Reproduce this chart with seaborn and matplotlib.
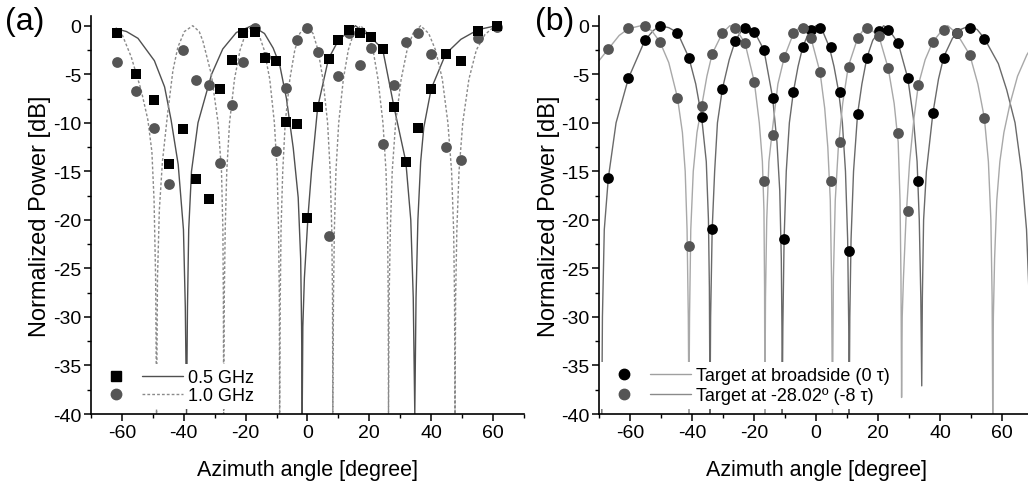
import matplotlib
matplotlib.use("Agg")
import pandas as pd
import matplotlib.pyplot as plt
import seaborn as sns
from matplotlib.lines import Line2D
from matplotlib.legend_handler import HandlerTuple
from matplotlib.ticker import MultipleLocator

# ---------------- panel (a): measured points ----------------
a_angle = [-61.7, -55.3, -49.7, -44.8, -40.2, -35.9, -31.9, -28.2, -24.4, -20.8,
           -17.1, -13.7, -10.2, -6.9, -3.4, -0.1, 3.3, 6.8, 10.0, 13.5,
           16.9, 20.5, 24.3, 28.0, 31.8, 35.8, 40.0, 44.7, 49.6, 55.2, 61.4]
a_05ghz = [-0.7, -5.0, -7.7, -14.2, -10.6, -15.8, -17.9, -6.5, -3.5, -0.7,
           -0.65, -3.3, -3.6, -9.9, -10.1, -19.8, -8.4, -3.4, -1.5, -0.4,
           -0.8, -1.2, -2.4, -8.4, -14.0, -10.5, -6.5, -2.9, -3.6, -0.5, 0.0]
a_10ghz = [-3.7, -6.7, -10.5, -16.3, -2.5, -5.6, -6.1, -14.1, -8.2, -3.7,
           -0.2, -3.2, -12.9, -6.4, -1.5, -0.2, -2.7, -21.7, -5.2, -0.75,
           -4.0, -2.3, -12.2, -6.1, -1.7, -0.8, -2.9, -12.5, -13.8, -1.3, -0.1]

# theory curves
a_05ghz_line_x = [-62.0, -58.5, -54.8, -49.5, -46.2, -44.1, -41.8, -40.1, -39.5, -39.1,
                  -38.8, -38.4, -37.5, -35.4, -31.0, -27.4, -23.0, -18.0,
                  -13.9, -11.1, -9.0, -6.8, -4.6, -3.0, -2.2, -1.9, -1.7,
                  -1.5, -1.0, 0.2, 1.3, 3.3, 6.8, 10.0, 15.5, 20.5, 24.3, 28.0, 31.8,
                  33.4, 34.2, 34.7,
                  35.1, 35.7, 36.6, 37.6, 40.0, 44.7, 49.6, 55.2, 61.0, 62.0]
a_05ghz_line_y = [-0.3, -0.6, -1.3, -3.6, -6.3, -9.7, -14.3, -21.0, -29.0, -40.0,
                  -29.0, -21.0, -15.0, -10.0, -5.0, -2.4, -0.7, 0.0,
                  -0.8, -2.3, -4.0, -7.5, -12.6, -17.7, -24.0, -31.0, -40.0,
                  -31.0, -26.0, -19.5, -15.0, -8.4, -3.4, -1.5, 0.0, -1.2, -2.4, -8.4, -14.0,
                  -20.0, -28.0, -40.0,
                  -28.0, -20.0, -14.0, -10.5, -6.5, -2.9, -1.4, -0.4, 0.0, 0.0]

a_10ghz_line_x = [-62.0, -60.2, -57.0, -53.8, -51.6, -50.3, -49.6, -49.1, -48.8,
                  -48.5, -47.9, -46.9, -45.2, -43.5, -41.9, -39.8, -37.1, -35.0, -33.8,
                  -31.1, -28.9, -27.8, -27.35, -27.2, -27.1,
                  -26.9, -26.6, -26.1, -25.2, -23.6, -21.8, -20.0, -18.0, -15.8, -14.0,
                  -12.2, -10.7, -9.8, -9.35, -9.1, -9.0,
                  -8.8, -8.55, -8.0, -7.2, -5.7, -4.1, -2.5, -0.4, 1.8, 3.4,
                  5.0, 6.5, 7.35, 7.85, 8.1, 8.2,
                  8.4, 8.7, 9.2, 10.1, 11.6, 13.2, 14.9, 17.2, 19.5, 21.2,
                  22.8, 24.4, 25.4, 25.9, 26.1, 26.2,
                  26.4, 26.8, 27.4, 28.5, 30.3, 32.2, 34.1, 36.6, 39.2, 41.4,
                  43.6, 45.4, 46.6, 47.25, 47.55, 47.7,
                  47.9, 48.3, 49.0, 50.2, 52.2, 54.6, 57.4, 60.0, 62.0]
a_10ghz_line_y = [-0.2, -0.7, -3.2, -6.6, -9.7, -13.0, -18.0, -26.0, -40.0,
                  -26.0, -19.0, -14.0, -9.0, -4.6, -2.2, -0.6, 0.0, -0.6, -1.6,
                  -5.0, -10.0, -15.0, -21.0, -28.0, -40.0,
                  -28.0, -21.0, -15.0, -10.0, -5.5, -2.5, -0.8, 0.0, -0.8, -2.5,
                  -5.5, -10.0, -15.0, -21.0, -28.0, -40.0,
                  -28.0, -21.0, -15.0, -10.0, -5.5, -2.5, -0.8, 0.0, -0.8, -2.5,
                  -5.5, -10.0, -15.0, -21.0, -28.0, -40.0,
                  -28.0, -21.0, -15.0, -10.0, -5.5, -2.5, -0.8, 0.0, -0.8, -2.5,
                  -5.5, -10.0, -15.0, -21.0, -28.0, -40.0,
                  -28.0, -21.0, -15.0, -10.0, -5.5, -2.5, -0.8, 0.0, -0.8, -2.5,
                  -5.5, -10.0, -15.0, -21.0, -28.0, -40.0,
                  -28.0, -21.0, -15.0, -10.0, -5.5, -2.5, -0.9, -0.2, 0.0]

# ---------------- panel (b): measured points ----------------
b_angle = [-67.0, -60.5, -55.2, -50.3, -44.7, -41.0, -36.9, -33.5, -30.2, -26.1,
           -22.9, -19.9, -16.8, -14.0, -10.2, -7.3, -4.3, -1.6, 1.3, 4.7,
           7.7, 10.5, 13.4, 16.4, 20.3, 23.3, 26.5, 29.6, 33.0, 37.6,
           41.3, 45.4, 49.6, 54.3]
b_broadside = [-15.7, -5.4, -1.5, 0.0, -0.7, -3.3, -9.4, -20.9, -6.5, -1.6,
               -0.2, -0.6, -2.5, -7.4, -22.0, -6.8, -2.2, -0.4, -0.2, -2.2,
               -6.8, -23.2, -9.1, -3.3, -0.5, -0.4, -1.8, -5.4, -16.0, -9.0,
               -3.3, -0.7, -0.2, -1.4]
b_steered = [-2.4, -0.2, 0.0, -1.7, -7.4, -22.7, -8.3, -2.9, -0.75, -0.2,
             -1.8, -5.8, -16.0, -11.3, -3.2, -0.8, -0.2, -1.3, -4.8, -16.0,
             -12.0, -4.2, -1.3, -0.2, -1.1, -4.4, -11.1, -19.1, -6.1, -1.7,
             -0.4, -0.8, -3.0, -9.5]

b_broadside_line_x = [-69.1, -68.9, -68.3, -67.0, -64.5, -60.5, -55.2, -52.5, -50.3, -47.5,
                      -44.7, -41.0, -38.8, -36.9, -35.4, -34.7, -34.4, -34.2,
                      -34.0, -33.5, -32.7, -31.8, -30.2, -28.0, -26.1, -23.5, -22.3, -19.9,
                      -16.8, -14.0, -12.6, -11.7, -11.2, -11.0, -10.9,
                      -10.7, -10.3, -9.6, -8.6, -7.3, -5.8, -4.3, -2.2, 0.0, 2.2,
                      4.3, 5.8, 7.3, 8.5, 9.5, 10.2, 10.55, 10.7,
                      10.9, 11.3, 12.1, 13.4, 14.8, 16.4, 18.3, 21.8, 23.3, 26.5,
                      29.6, 31.4, 32.6, 33.3, 33.8, 34.1,
                      34.3, 34.7, 35.6, 37.7, 39.5, 41.2, 44.0, 46.5, 49.6, 52.0,
                      54.3, 58.8, 61.5, 64.2, 66.3, 67.9, 69.0, 69.4]
b_broadside_line_y = [-40.0, -30.0, -21.0, -15.7, -10.0, -5.4, -1.5, -0.5, 0.0, -0.2,
                      -0.7, -3.3, -6.0, -9.4, -14.0, -20.0, -27.0, -40.0,
                      -30.0, -21.0, -15.0, -10.0, -6.5, -3.5, -1.6, -0.2, 0.0, -0.6,
                      -2.5, -7.4, -12.0, -17.0, -24.0, -31.0, -40.0,
                      -31.0, -22.0, -15.0, -10.0, -6.8, -4.2, -2.2, -0.6, 0.0, -0.6,
                      -2.2, -4.2, -6.8, -10.0, -15.0, -22.0, -31.0, -40.0,
                      -30.0, -22.0, -15.0, -9.1, -6.0, -3.3, -1.5, 0.0, -0.3, -1.8,
                      -5.4, -9.5, -14.0, -20.0, -28.0, -37.1,
                      -28.0, -20.0, -15.0, -9.0, -5.5, -3.2, -1.3, -0.4, 0.0, -0.4,
                      -1.3, -3.9, -6.6, -10.0, -15.0, -21.0, -30.0, -40.0]

b_steered_line_x = [-70.0, -67.0, -63.5, -60.5, -56.5, -53.0, -50.3, -47.5, -44.7, -43.1,
                    -42.2, -41.6, -41.2, -41.0,
                    -40.8, -40.4, -39.6, -38.4, -36.9, -35.2, -33.5, -30.2, -27.8, -26.1,
                    -22.9, -19.9, -18.3, -17.3, -16.8, -16.6, -16.5,
                    -16.3, -15.9, -15.2, -14.0, -12.3, -10.2, -7.3, -4.8, -1.6, 1.3,
                    2.8, 3.8, 4.6, 5.0, 5.3,
                    5.6, 6.2, 7.2, 8.6, 10.4, 13.4, 16.2, 20.3, 23.3, 25.2,
                    26.5, 27.1, 27.4, 27.6,
                    27.8, 28.2, 29.0, 30.2, 31.6, 33.0, 35.2, 37.6, 41.3, 42.5,
                    45.4, 49.6, 52.2, 54.3, 55.6, 56.4, 56.8, 57.0,
                    57.2, 57.6, 58.3, 59.3, 60.6, 62.6, 65.0, 68.0, 70.0]
b_steered_line_y = [-3.6, -2.4, -1.0, -0.3, 0.0, -0.5, -1.7, -3.8, -7.4, -11.0,
                    -15.0, -21.0, -30.0, -40.0,
                    -30.0, -21.0, -15.0, -11.0, -8.3, -5.2, -2.9, -0.75, 0.0, -0.2,
                    -1.8, -5.8, -10.0, -14.0, -19.0, -27.0, -40.0,
                    -28.0, -20.0, -14.0, -10.5, -6.0, -3.2, -0.8, 0.0, -1.3, -4.8,
                    -8.5, -12.5, -18.0, -26.0, -40.0,
                    -26.0, -18.0, -12.5, -8.0, -4.2, -1.3, 0.0, -1.1, -4.4, -8.0,
                    -12.0, -18.0, -26.0, -38.3,
                    -30.0, -26.0, -20.0, -14.0, -9.5, -6.1, -3.5, -1.7, -0.2, 0.0,
                    -0.8, -3.0, -6.0, -9.5, -14.0, -20.0, -28.0, -40.0,
                    -30.0, -24.0, -18.0, -14.0, -11.0, -8.0, -5.2, -3.0, -2.0]

sns.set_style("ticks")
plt.rcParams['font.family'] = ['Liberation Sans', 'DejaVu Sans']
plt.rcParams['axes.unicode_minus'] = False
plt.rcParams['text.color'] = 'black'
plt.rcParams['axes.labelcolor'] = 'black'
plt.rcParams['xtick.color'] = 'black'
plt.rcParams['ytick.color'] = 'black'

fig = plt.figure(figsize=(10.28, 4.85), dpi=100)
ax_a = fig.add_axes([0.0885, 0.1443, 0.4212, 0.8206])
ax_b = fig.add_axes([0.5827, 0.1443, 0.4222, 0.8206])


def style_axes(ax):
    ax.set_xlim(-70, 70)
    ax.set_ylim(-40, 1)
    ax.xaxis.set_major_locator(MultipleLocator(20))
    ax.xaxis.set_minor_locator(MultipleLocator(10))
    ax.yaxis.set_major_locator(MultipleLocator(5))
    ax.yaxis.set_minor_locator(MultipleLocator(2.5))
    ax.tick_params(which='major', direction='out', length=5, width=1.1,
                   labelsize=14, pad=2, color='black', labelcolor='black')
    ax.tick_params(which='minor', direction='out', length=3, width=1.0, color='black')
    for side in ['top', 'right']:
        ax.spines[side].set_visible(False)
    for side in ['left', 'bottom']:
        ax.spines[side].set_linewidth(1.2)
        ax.spines[side].set_color('black')
        ax.spines[side].set_zorder(10)
    ax.set_xlabel('Azimuth angle [degree]', fontsize=15.5, labelpad=13)
    ax.set_ylabel('Normalized Power [dB]', fontsize=17, labelpad=1)


# ---- (a)
df_a = pd.DataFrame({'angle': a_angle, 'p05': a_05ghz, 'p10': a_10ghz})
sns.lineplot(x=a_05ghz_line_x, y=a_05ghz_line_y, ax=ax_a, color='#505050',
             lw=1.0, estimator=None, sort=False)
sns.lineplot(x=a_10ghz_line_x, y=a_10ghz_line_y, ax=ax_a, color='#8a8a8a',
             lw=1.0, estimator=None, sort=False, linestyle=(0, (2, 1.5)))
sns.scatterplot(data=df_a, x='angle', y='p10', ax=ax_a, color='#555555',
                marker='o', s=60, linewidth=0, zorder=3)
sns.scatterplot(data=df_a, x='angle', y='p05', ax=ax_a, color='black',
                marker='s', s=50, linewidth=0, zorder=4)
style_axes(ax_a)

pair = {tuple: HandlerTuple(ndivide=None, pad=0.33)}
h_a = [(Line2D([], [], ls='none', marker='s', color='black', ms=7),
        Line2D([], [], color='#505050', lw=1.0)),
       (Line2D([], [], ls='none', marker='o', color='#555555', ms=7.5),
        Line2D([], [], color='#8a8a8a', lw=1.0, ls=(0, (2, 1.5))))]
ax_a.legend(h_a, ['0.5 GHz', '1.0 GHz'], handler_map=pair, loc='lower left',
            bbox_to_anchor=(0, 0.012), borderaxespad=0, borderpad=0.28,
            handlelength=4.8, handletextpad=0.3, labelspacing=0.05,
            fontsize=13, frameon=True, facecolor='white', edgecolor='none',
            framealpha=1, fancybox=False)

# ---- (b)
df_b = pd.DataFrame({'angle': b_angle, 'bs': b_broadside, 'st': b_steered})
sns.lineplot(x=b_broadside_line_x, y=b_broadside_line_y, ax=ax_b, color='#6a6a6a',
             lw=1.0, estimator=None, sort=False)
sns.lineplot(x=b_steered_line_x, y=b_steered_line_y, ax=ax_b, color='#a8a8a8',
             lw=1.0, estimator=None, sort=False)
sns.scatterplot(data=df_b, x='angle', y='bs', ax=ax_b, color='black',
                marker='o', s=60, linewidth=0, zorder=3)
sns.scatterplot(data=df_b, x='angle', y='st', ax=ax_b, color='#555555',
                marker='o', s=60, linewidth=0, zorder=4)
style_axes(ax_b)

h_b = [(Line2D([], [], ls='none', marker='o', color='black', ms=7.5),
        Line2D([], [], color='#a0a0a0', lw=1.0)),
       (Line2D([], [], ls='none', marker='o', color='#555555', ms=7.5),
        Line2D([], [], color='#8a8a8a', lw=1.0))]
ax_b.legend(h_b, ['Target at broadside (0 τ)', 'Target at -28.02º (-8 τ)'],
            handler_map=pair, loc='lower left',
            bbox_to_anchor=(0, 0.012), borderaxespad=0, borderpad=0.28,
            handlelength=4.8, handletextpad=0.3, labelspacing=0.15,
            fontsize=13, frameon=True, facecolor='white', edgecolor='none',
            framealpha=1, fancybox=False)

fig.text(5 / 1028, 1 - 22 / 485, '(a)', fontsize=23, ha='left', va='center')
fig.text(535 / 1028, 1 - 22 / 485, '(b)', fontsize=23, ha='left', va='center')

fig.savefig('out.png', dpi=100)
